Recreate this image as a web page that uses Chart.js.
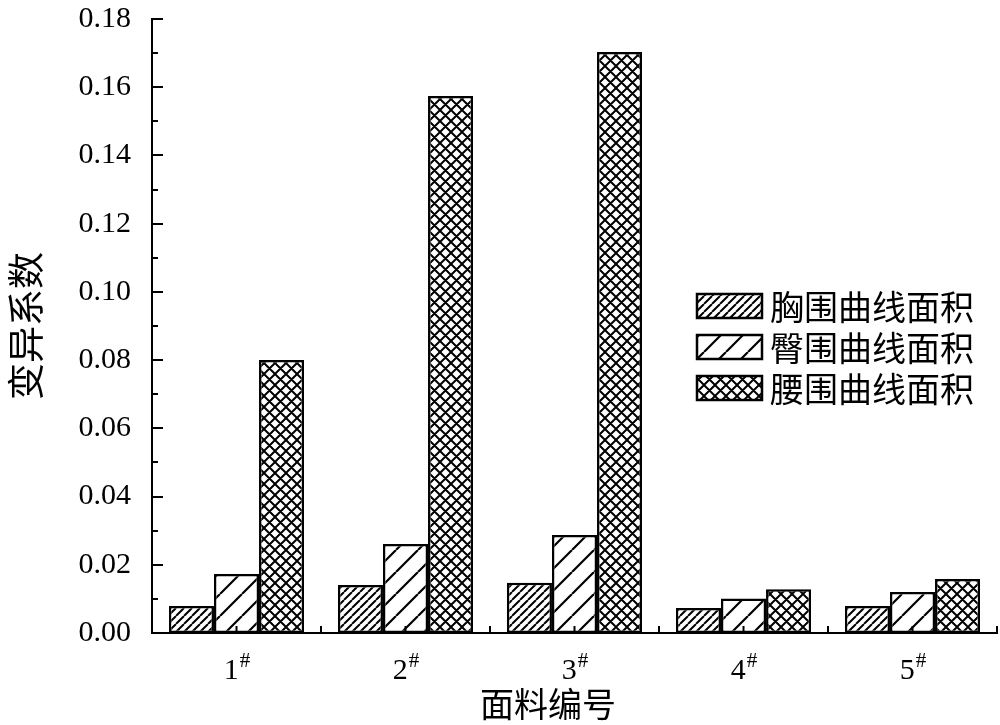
<!DOCTYPE html>
<html>
<head>
<meta charset="utf-8">
<script src="https://cdn.jsdelivr.net/npm/chart.js@4/dist/chart.umd.min.js"></script>
<style>
  html, body { margin: 0; padding: 0; background: #fff; }
  #wrap { width: 1000px; height: 725px; }
</style>
</head>
<body>
<div id="wrap"><canvas id="c"></canvas></div>
<script>
  const categories = ["1#", "2#", "3#", "4#", "5#"];
  const seriesNames = ["胸围曲线面积", "臀围曲线面积", "腰围曲线面积"];
  const xiongwei = [0.0079, 0.0141, 0.0147, 0.0073, 0.0079];
  const tunwei = [0.0173, 0.0261, 0.0287, 0.0101, 0.0120];
  const yaowei = [0.0800, 0.1574, 0.1703, 0.0128, 0.0158];

  const serif = "'Liberation Serif', 'Times New Roman', serif";
  const cjk = "'Noto Sans CJK SC', sans-serif";

  function hatch(s, cross, lw) {
    const c = document.createElement("canvas");
    c.width = s; c.height = s;
    const g = c.getContext("2d");
    g.fillStyle = "#fff";
    g.fillRect(0, 0, s, s);
    g.strokeStyle = "#000";
    g.lineWidth = lw;
    g.beginPath();
    for (const k of [-s, 0, s]) {
      g.moveTo(k, s); g.lineTo(k + s, 0);
      if (cross) { g.moveTo(k, 0); g.lineTo(k + s, s); }
    }
    g.stroke();
    return g.createPattern(c, "repeat");
  }

  const ctx0 = document.getElementById("c").getContext("2d");
  const fills = [hatch(8, false, 2), hatch(22, false, 2.2), hatch(11, true, 2)];

  // inward ticks, x labels with superscript, legend, axis titles
  const decor = {
    id: "decor",
    afterDatasetsDraw(chart) {
      const { ctx, chartArea: a, scales } = chart;
      const x = scales.x, y = scales.y;
      ctx.save();
      ctx.strokeStyle = "#000";
      ctx.lineWidth = 2;
      ctx.beginPath();
      for (let i = 0; i <= 18; i++) {
        const py = Math.round(y.getPixelForValue(i / 100));
        const len = i % 2 === 0 ? 11 : 6;
        ctx.moveTo(a.left, py); ctx.lineTo(a.left + len, py);
      }
      const w = (a.right - a.left) / categories.length;
      for (let i = 0; i <= categories.length; i++) {
        const px = a.left + i * w;
        ctx.moveTo(px, a.bottom); ctx.lineTo(px, a.bottom - 7);
        if (i < categories.length) {
          const cx = x.getPixelForValue(i);
          ctx.moveTo(cx, a.bottom); ctx.lineTo(cx, a.bottom - 7);
        }
      }
      ctx.stroke();
      ctx.restore();
    },
    afterDraw(chart) {
      const { ctx, scales } = chart;
      const x = scales.x;
      ctx.save();
      ctx.fillStyle = "#000";
      ctx.textBaseline = "alphabetic";
      categories.forEach((lab, i) => {
        const num = lab.replace("#", "");
        ctx.font = "30px " + serif;
        const wn = ctx.measureText(num).width;
        ctx.font = "21px " + serif;
        const ws = ctx.measureText("#").width;
        const cx = x.getPixelForValue(i);
        const left = cx - (wn + ws) / 2;
        ctx.font = "30px " + serif;
        ctx.textAlign = "left";
        ctx.fillText(num, left, 679);
        ctx.font = "21px " + serif;
        ctx.fillText("#", left + wn + 1, 667);
      });

      ctx.textAlign = "center";
      ctx.textBaseline = "middle";
      ctx.font = "34px " + cjk;
      ctx.fillText("面料编号", 548, 704);
      ctx.save();
      ctx.translate(26, 326);
      ctx.rotate(-Math.PI / 2);
      ctx.font = "37px " + cjk;
      ctx.fillText("变异系数", 0, 0);
      ctx.restore();

      const rows = [306, 347, 388];
      chart.data.datasets.forEach((ds, i) => {
        const bx = 697, by = rows[i] - 12;
        ctx.fillStyle = ds.backgroundColor;
        ctx.fillRect(bx, by, 65, 24);
        ctx.strokeStyle = "#000";
        ctx.lineWidth = 2.5;
        ctx.strokeRect(bx, by, 65, 24);
        ctx.fillStyle = "#000";
        ctx.font = "34px " + cjk;
        ctx.textAlign = "left";
        ctx.fillText(ds.label, 770, rows[i] + 1);
      });
      ctx.restore();
    }
  };

  new Chart(ctx0, {
    type: "bar",
    data: {
      labels: categories,
      datasets: [
        { label: seriesNames[0], data: xiongwei, backgroundColor: fills[0] },
        { label: seriesNames[1], data: tunwei, backgroundColor: fills[1] },
        { label: seriesNames[2], data: yaowei, backgroundColor: fills[2] }
      ].map(d => Object.assign(d, {
        borderColor: "#000",
        borderWidth: 2.5,
        borderSkipped: false,
        categoryPercentage: 0.8,
        barPercentage: 1.0
      }))
    },
    options: {
      responsive: true,
      maintainAspectRatio: false,
      animation: false,
      layout: { padding: { top: 19, right: 3, left: 0, bottom: 0 } },
      plugins: {
        legend: { display: false },
        tooltip: { enabled: false }
      },
      scales: {
        x: {
          grid: { display: false },
          border: { color: "#000", width: 2 },
          ticks: { display: false },
          afterFit: s => { s.height = 92; s.paddingLeft = 0; s.paddingRight = 0; }
        },
        y: {
          min: 0,
          max: 0.18,
          grid: { display: false, drawTicks: false },
          border: { color: "#000", width: 2 },
          ticks: {
            stepSize: 0.02,
            padding: 21,
            color: "#000",
            font: { family: serif, size: 30 },
            callback: v => v.toFixed(2)
          },
          afterFit: s => { s.width = 152; s.paddingTop = 0; s.paddingBottom = 0; }
        }
      }
    },
    plugins: [decor]
  });
</script>
</body>
</html>
